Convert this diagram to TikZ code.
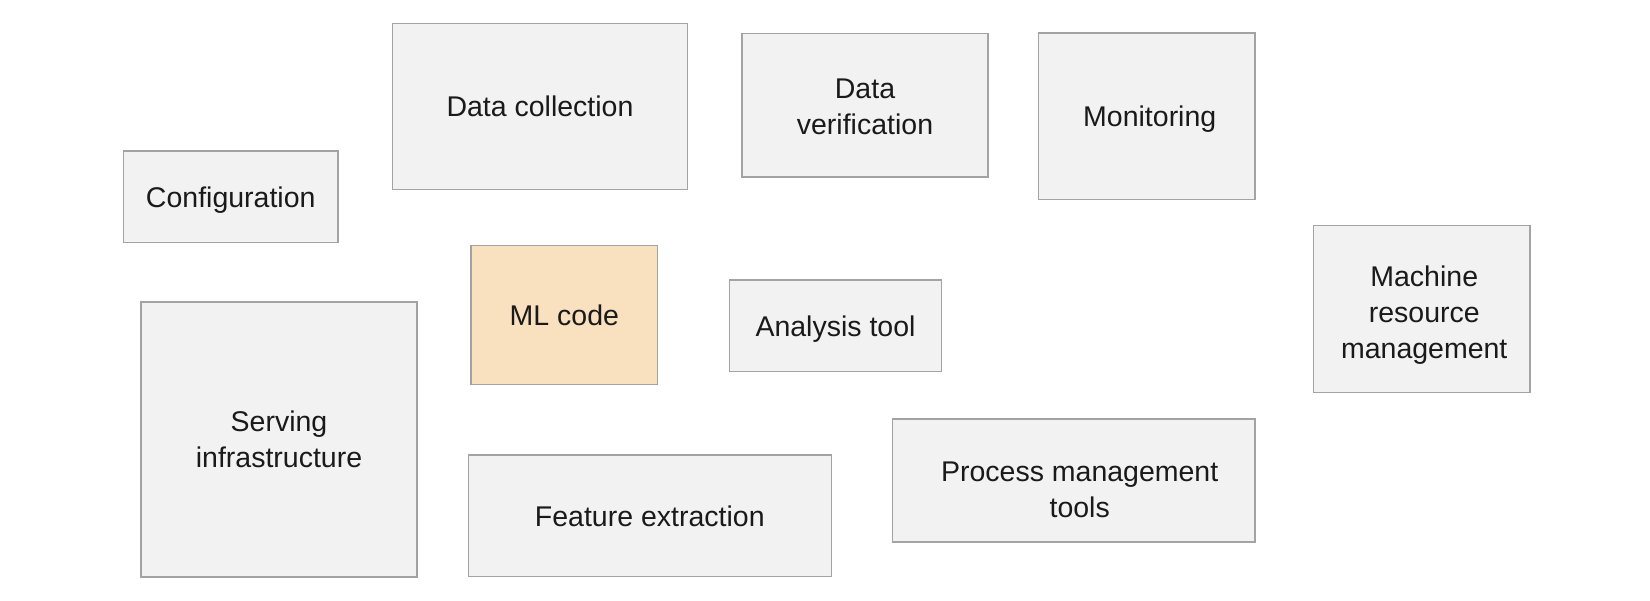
\documentclass[tikz,border=0pt]{standalone}
\usepackage{fontspec}
\setmainfont{Liberation Sans}
\definecolor{boxfill}{HTML}{F2F2F2}
\definecolor{boxline}{HTML}{A3A3A3}
\definecolor{mlfill}{HTML}{F9E1C0}
\definecolor{txt}{HTML}{1A1A1A}
\tikzset{
  txtsty/.style={align=center, text=txt, font=\fontsize{28.5}{36}\selectfont, inner sep=0pt},
  blk/.style={draw=boxline, fill=boxfill, line width=1.5pt, inner sep=0pt, txtsty},
  mlblk/.style={blk, fill=mlfill}
}
\begin{document}
\begin{tikzpicture}[x=1pt,y=-1pt]
\useasboundingbox (0,0) rectangle (1650,601);
\node[blk, minimum width=214.5pt, minimum height=91.5pt,
  label={[txtsty, yshift=-3pt]center:Configuration}] (conf) at (230.75,196.75) {};
\node[blk, minimum width=294.6pt, minimum height=166.2pt] (dcol) at (540,106.6) {Data collection};
\node[blk, minimum width=246pt, minimum height=143.5pt,
  label={[txtsty, yshift=-2pt]center:Data\\verification}] (dver) at (865,105.25) {};
\node[blk, minimum width=216.5pt, minimum height=166.3pt,
  label={[txtsty, xshift=3pt, yshift=-3pt]center:Monitoring}] (mon) at (1146.75,116.15) {};
\node[blk, minimum width=216.5pt, minimum height=167.1pt,
  label={[txtsty, xshift=2.5pt, yshift=-6.5pt]center:Machine\\resource\\management}] (mrm) at (1421.75,308.85) {};
\node[mlblk, minimum width=186.7pt, minimum height=139.2pt] (ml) at (564.35,314.9) {ML code};
\node[blk, minimum width=212pt, minimum height=91.6pt,
  label={[txtsty, yshift=-3pt]center:Analysis tool}] (ana) at (835.5,325.8) {};
\node[blk, minimum width=276pt, minimum height=275pt] (serv) at (279,439.5) {Serving\\infrastructure};
\node[blk, minimum width=363pt, minimum height=121.7pt] (feat) at (649.8,515.85) {Feature extraction};
\node[blk, minimum width=362.6pt, minimum height=122.8pt,
  label={[txtsty, xshift=6pt, yshift=-9.5pt]center:Process management\\tools}] (proc) at (1073.7,480.4) {};
\end{tikzpicture}
\end{document}
